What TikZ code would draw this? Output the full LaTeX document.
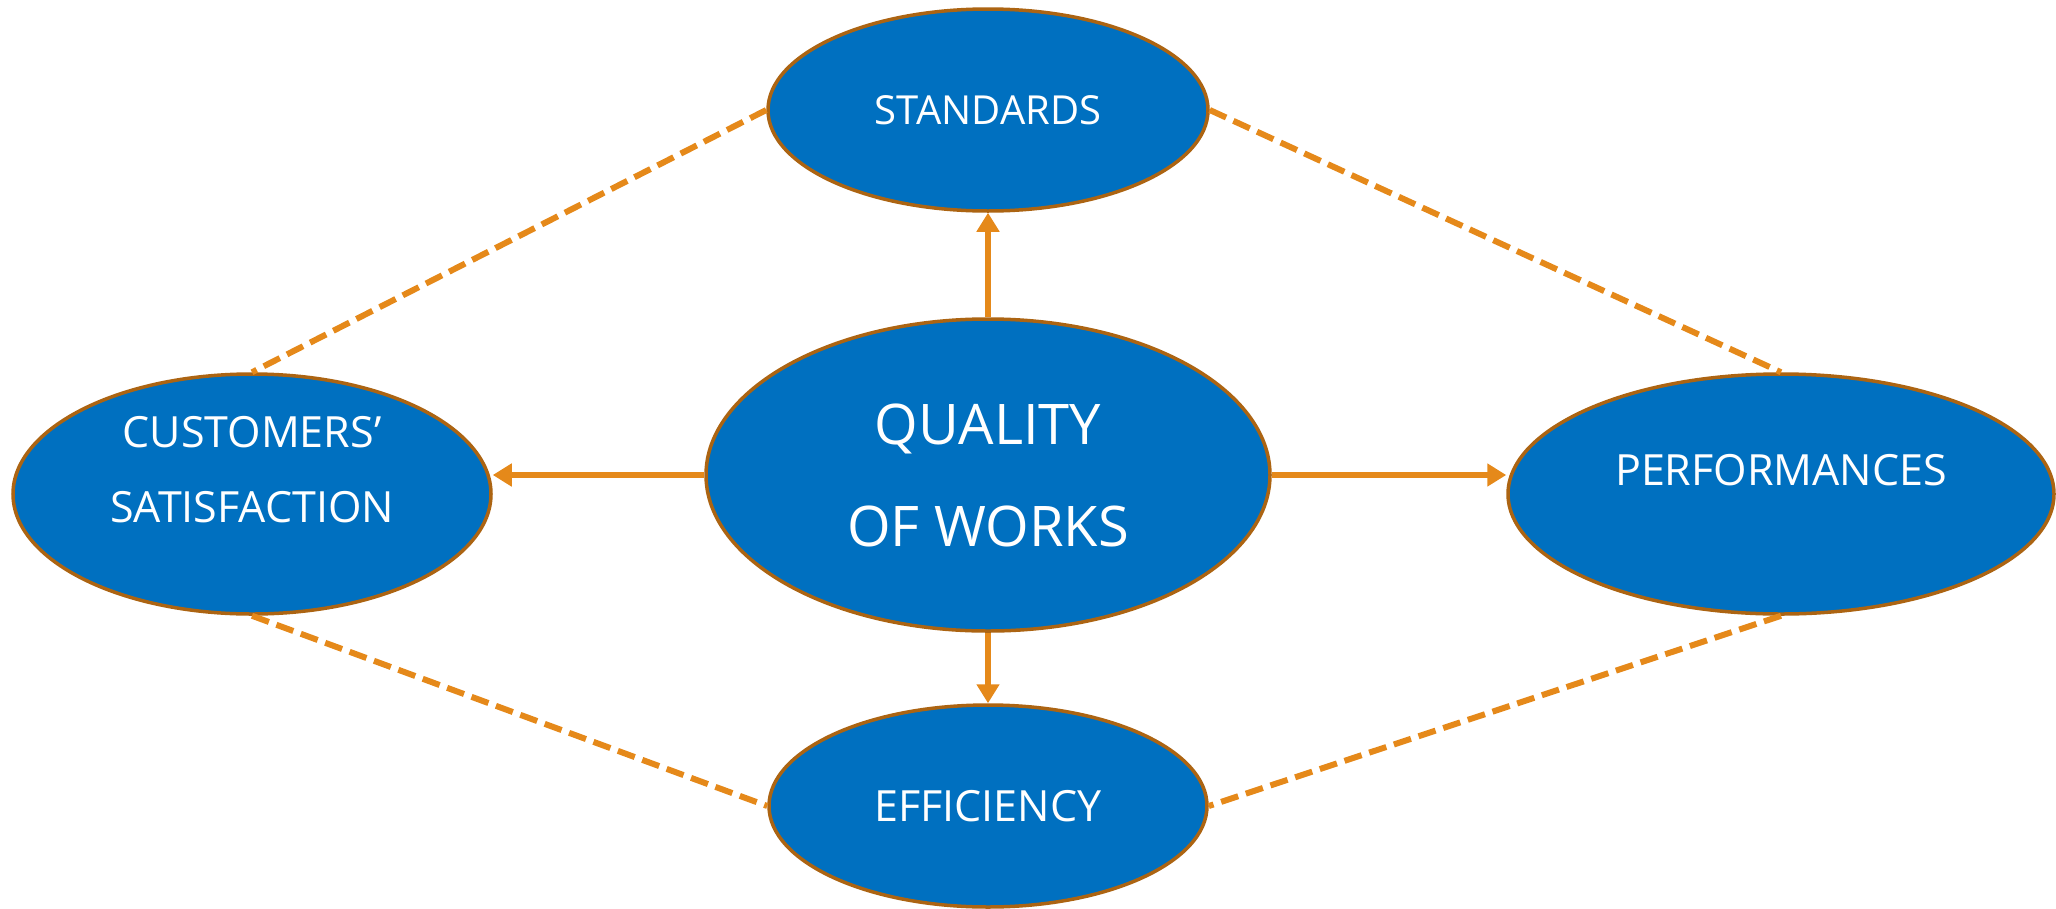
\documentclass[tikz,border=0pt]{standalone}
\usepackage{fontspec}
\setmainfont{Open Sans}
\usetikzlibrary{shapes.geometric,arrows.meta}
\definecolor{fillblue}{HTML}{0070C0}
\definecolor{rimbrown}{HTML}{AC6412}
\definecolor{linkorange}{HTML}{E5891A}
\tikzset{
  bubble/.style={ellipse, draw=rimbrown, line width=3.5pt, fill=fillblue, inner sep=0pt},
  bubbletext/.style={text=white, inner sep=0pt, align=center},
  arrowlink/.style={draw=linkorange, line width=6pt, -{Triangle[length=19pt,width=22pt]}},
  dashlink/.style={draw=linkorange, line width=6pt, dash pattern=on 18pt off 8pt}
}
\begin{document}
\begin{tikzpicture}[x=1pt,y=-1pt]
\useasboundingbox (0,0) rectangle (2056,908);
\node[bubble, minimum width=440pt, minimum height=202pt] (std) at (988,110) {};
\node[bubble, minimum width=564pt, minimum height=312pt] (qual) at (988,475) {};
\node[bubble, minimum width=478pt, minimum height=240pt] (cust) at (252,494) {};
\node[bubble, minimum width=546pt, minimum height=240pt] (perf) at (1781,494) {};
\node[bubble, minimum width=438pt, minimum height=202pt] (eff) at (988,806) {};
\node[bubbletext, font=\fontsize{40}{48}\selectfont] (stdtext) at (988,110) {STANDARDS};
\node[bubbletext, font=\fontsize{56}{102}\selectfont] (qualtext) at (988,475) {QUALITY\\OF WORKS};
\node[bubbletext, font=\fontsize{43}{75}\selectfont] (custtext) at (252,470) {CUSTOMERS’\\SATISFACTION};
\node[bubbletext, font=\fontsize{43}{52}\selectfont] (perftext) at (1781,470) {PERFORMANCES};
\node[bubbletext, font=\fontsize{43}{52}\selectfont] (efftext) at (988,806) {EFFICIENCY};
\draw[arrowlink] (qual.north) -- (std.south);
\draw[arrowlink] (qual.south) -- (eff.north);
\draw[arrowlink] (qual.west) -- (qual.west -| cust.east);
\draw[arrowlink] (qual.east) -- (qual.east -| perf.west);
\draw[dashlink] (std.west) -- (cust.north);
\draw[dashlink] (std.east) -- (perf.north);
\draw[dashlink] (cust.south) -- (eff.west);
\draw[dashlink] (perf.south) -- (eff.east);
\end{tikzpicture}
\end{document}
